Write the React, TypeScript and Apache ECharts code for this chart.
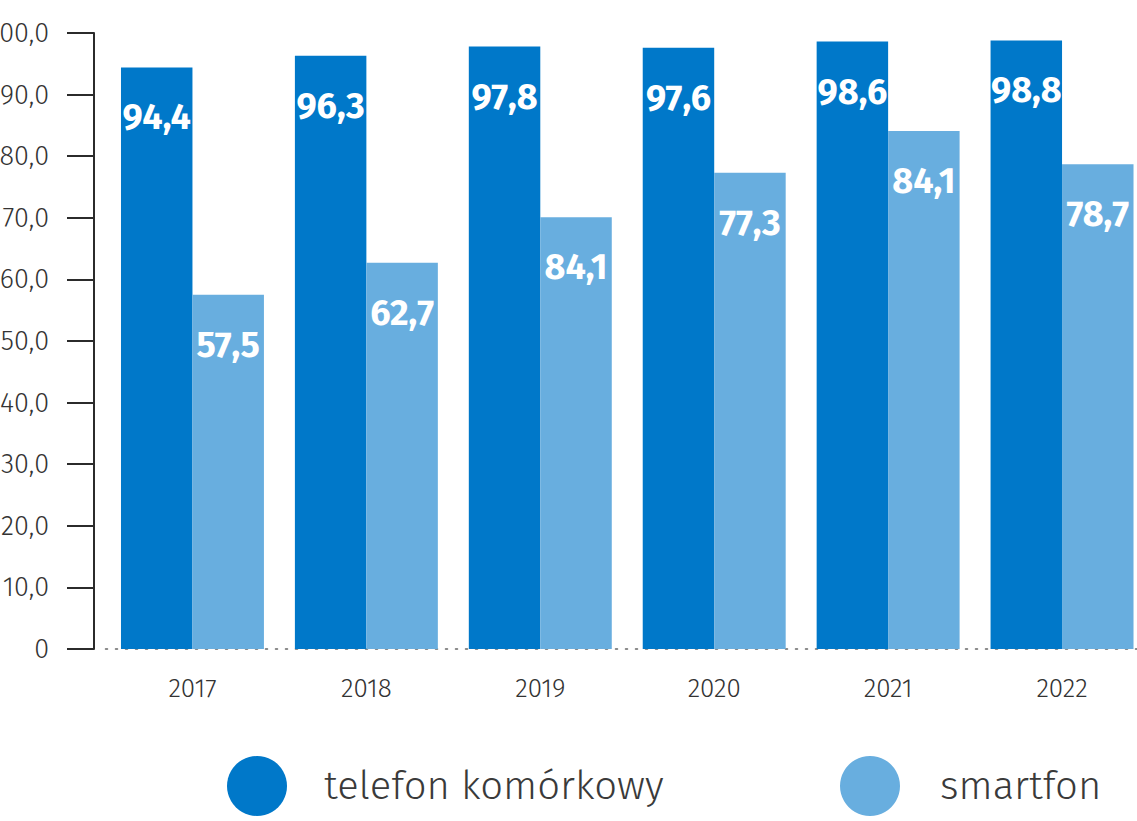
import React, { useEffect, useRef } from "react";
import * as echarts from "echarts";

const years = ["2017", "2018", "2019", "2020", "2021", "2022"];
const telefon = [94.4, 96.3, 97.8, 97.6, 98.6, 98.8];
// bar heights as drawn in the reference
const smartfon = [57.5, 62.7, 70.1, 77.3, 84.1, 78.7];
// labels as printed in the reference
const smartfonLabels = ["57,5", "62,7", "84,1", "77,3", "84,1", "78,7"];
const yTicks = [0, 10, 20, 30, 40, 50, 60, 70, 80, 90, 100];

const DARK = "#0078C9";
const LIGHT = "#68AEDF";
const FONT = "'Fira Sans', 'Open Sans', 'Noto Sans', sans-serif";

const fmt = (v: number) => (v === 0 ? "0" : v.toFixed(1).replace(".", ","));

export default function App() {
  const ref = useRef<HTMLDivElement>(null);
  useEffect(() => {
    if (!ref.current) return;
    const chart = echarts.init(ref.current, null, { renderer: "svg" });
    const barLabel = {
      show: true,
      position: "insideTop" as const,
      distance: 32,
      color: "#ffffff",
      fontFamily: FONT,
      fontWeight: "bold" as const,
      fontSize: 36,
      lineHeight: 36,
    };
    const legendText = { fontFamily: FONT, fontSize: 40, fontWeight: 300, color: "#3a3a3a" };
    chart.setOption({
      animation: false,
      backgroundColor: "#ffffff",
      grid: { left: 105.5, right: -12, top: 33, bottom: 172, outerBoundsMode: "none", containLabel: false },
      legend: [
        {
          data: ["telefon komórkowy"],
          left: 227,
          top: 756,
          padding: 0,
          icon: "circle",
          itemWidth: 60,
          itemHeight: 60,
          textStyle: { ...legendText, padding: [0, 0, 0, 32] },
          selectedMode: false,
        },
        {
          data: ["smartfon"],
          left: 840,
          top: 756,
          padding: 0,
          icon: "circle",
          itemWidth: 60,
          itemHeight: 60,
          textStyle: { ...legendText, padding: [0, 0, 0, 35] },
          selectedMode: false,
        },
      ],
      xAxis: {
        type: "category",
        data: years,
        axisLine: { show: true, lineStyle: { color: "#666", width: 1.5, type: [2, 8] } },
        axisTick: { show: false },
        axisLabel: { color: "#333", fontFamily: FONT, fontWeight: 300, fontSize: 26, margin: 26 },
      },
      yAxis: {
        type: "value",
        min: yTicks[0],
        max: yTicks[yTicks.length - 1],
        interval: 10,
        offset: 11.5,
        axisLine: { show: true, lineStyle: { color: "#2b2b2b", width: 2 } },
        axisTick: { show: true, length: 27, lineStyle: { color: "#2b2b2b", width: 2 } },
        splitLine: { show: false },
        axisLabel: { color: "#333", fontFamily: FONT, fontWeight: 300, fontSize: 27, margin: 45, formatter: fmt },
      },
      series: [
        {
          name: "telefon komórkowy",
          type: "bar",
          data: telefon,
          itemStyle: { color: DARK },
          barGap: "0%",
          barCategoryGap: "17.8%",
          label: { ...barLabel, formatter: (p: any) => fmt(p.value) },
        },
        {
          name: "smartfon",
          type: "bar",
          data: smartfon,
          itemStyle: { color: LIGHT },
          barGap: "0%",
          barCategoryGap: "17.8%",
          label: { ...barLabel, formatter: (p: any) => smartfonLabels[p.dataIndex] },
        },
      ],
    });
    return () => chart.dispose();
  }, []);
  return (
    <div
      ref={ref}
      style={{ position: "absolute", left: 0, top: 0, width: 1137, height: 821 }}
    />
  );
}
